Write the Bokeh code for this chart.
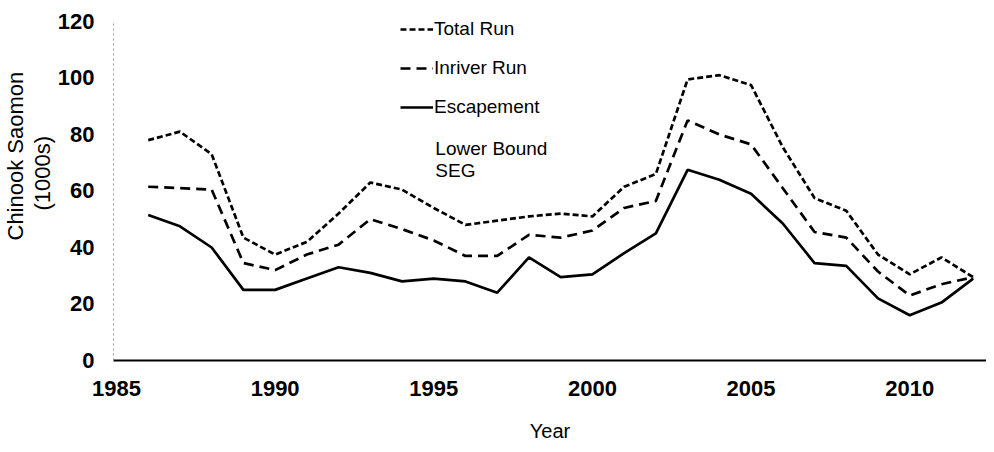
from bokeh.plotting import figure
from bokeh.models import Range1d, Legend, LegendItem, Label, FixedTicker, Title
from bokeh.embed import file_html
from bokeh.resources import INLINE

years = list(range(1986, 2013))
total_run = [78, 81, 73, 43.5, 37.5, 42, 52, 63, 60.5, 54, 48, 49.5, 51, 52, 51,
             61.5, 66, 99.5, 101, 97.5, 75.5, 57.5, 53, 37.5, 30.5, 36.5, 29.5]
inriver_run = [61.5, 61, 60.5, 34.5, 32, 37.5, 41, 50, 46.5, 42.5, 37, 37, 44.5, 43.5, 46,
               54, 56.5, 85, 80, 76.5, 61, 45.5, 43.5, 31.5, 23, 27, 29.5]
escapement = [51.5, 47.5, 40, 25, 25, 29, 33, 31, 28, 29, 28, 24, 36.5, 29.5, 30.5,
              38, 45, 67.5, 64, 59, 48.5, 34.5, 33.5, 22, 16, 20.5, 29]
x_ticks = [1985, 1990, 1995, 2000, 2005, 2010]
y_ticks = [0, 20, 40, 60, 80, 100, 120]

FONT = "Liberation Sans"

p = figure(width=986, height=444, output_backend="svg", toolbar_location=None,
           x_range=Range1d(1984.906, 2012.42), y_range=Range1d(0, 124.6),
           min_border_left=110, min_border_right=0, min_border_top=8, min_border_bottom=84)
p.outline_line_color = None
p.xgrid.visible = False
p.ygrid.visible = False
p.background_fill_color = "white"
p.border_fill_color = "white"

r_total = p.line(years, total_run, line_color="black", line_width=2.7, line_dash="6 3")
r_inr = p.line(years, inriver_run, line_color="black", line_width=2.7, line_dash="10 6")
r_esc = p.line(years, escapement, line_color="black", line_width=2.7)

# x axis
xa = p.xaxis[0]
xa.ticker = FixedTicker(ticks=x_ticks)
xa.axis_line_color = "black"
xa.axis_line_width = 2
xa.major_tick_out = 0
xa.major_tick_in = 0
xa.minor_tick_out = 0
xa.minor_tick_in = 0
xa.major_label_text_font = FONT
xa.major_label_text_font_style = "bold"
xa.major_label_text_font_size = "22px"
xa.major_label_text_color = "black"
xa.major_label_standoff = 20
xa.axis_label = "Year"
xa.axis_label_text_font = FONT
xa.axis_label_text_font_style = "normal"
xa.axis_label_text_font_size = "20px"
xa.axis_label_text_color = "black"
xa.axis_label_standoff = 21

# y axis
ya = p.yaxis[0]
ya.ticker = FixedTicker(ticks=y_ticks)
ya.bounds = (0, 120)
ya.axis_line_color = "#9a9a9a"
ya.axis_line_width = 1
ya.axis_line_dash = "2 3"
ya.major_tick_out = 0
ya.major_tick_in = 0
ya.minor_tick_out = 0
ya.minor_tick_in = 0
ya.major_label_text_font = FONT
ya.major_label_text_font_style = "bold"
ya.major_label_text_font_size = "22px"
ya.major_label_text_color = "black"
ya.major_label_standoff = 19

# y axis title in two lines (side-panel titles)
p.add_layout(Title(text="(1000s)", align="left", offset=150, standoff=0,
                   text_font=FONT, text_font_size="22px", text_font_style="normal",
                   text_color="black"), "left")
p.add_layout(Title(text="Chinook Saomon", align="left", offset=120, standoff=0,
                   text_font=FONT, text_font_size="22px", text_font_style="normal",
                   text_color="black"), "left")

legend = Legend(items=[LegendItem(label="Total Run", renderers=[r_total]),
                       LegendItem(label="Inriver Run", renderers=[r_inr]),
                       LegendItem(label="Escapement", renderers=[r_esc])],
                location=(287, 241), border_line_alpha=0, background_fill_alpha=0,
                label_text_font=FONT, label_text_font_size="19px", label_text_color="black",
                glyph_width=33, glyph_height=24, label_height=24, label_standoff=1,
                spacing=15, padding=0, margin=0)
p.add_layout(legend)

p.add_layout(Label(x=1995.05, y=75.0, text="Lower Bound", text_font=FONT,
                   text_font_size="19px", text_baseline="middle", text_color="black"))
p.add_layout(Label(x=1995.05, y=67.2, text="SEG", text_font=FONT,
                   text_font_size="19px", text_baseline="middle", text_color="black"))

open("out.html", "w").write(file_html(p, INLINE))
